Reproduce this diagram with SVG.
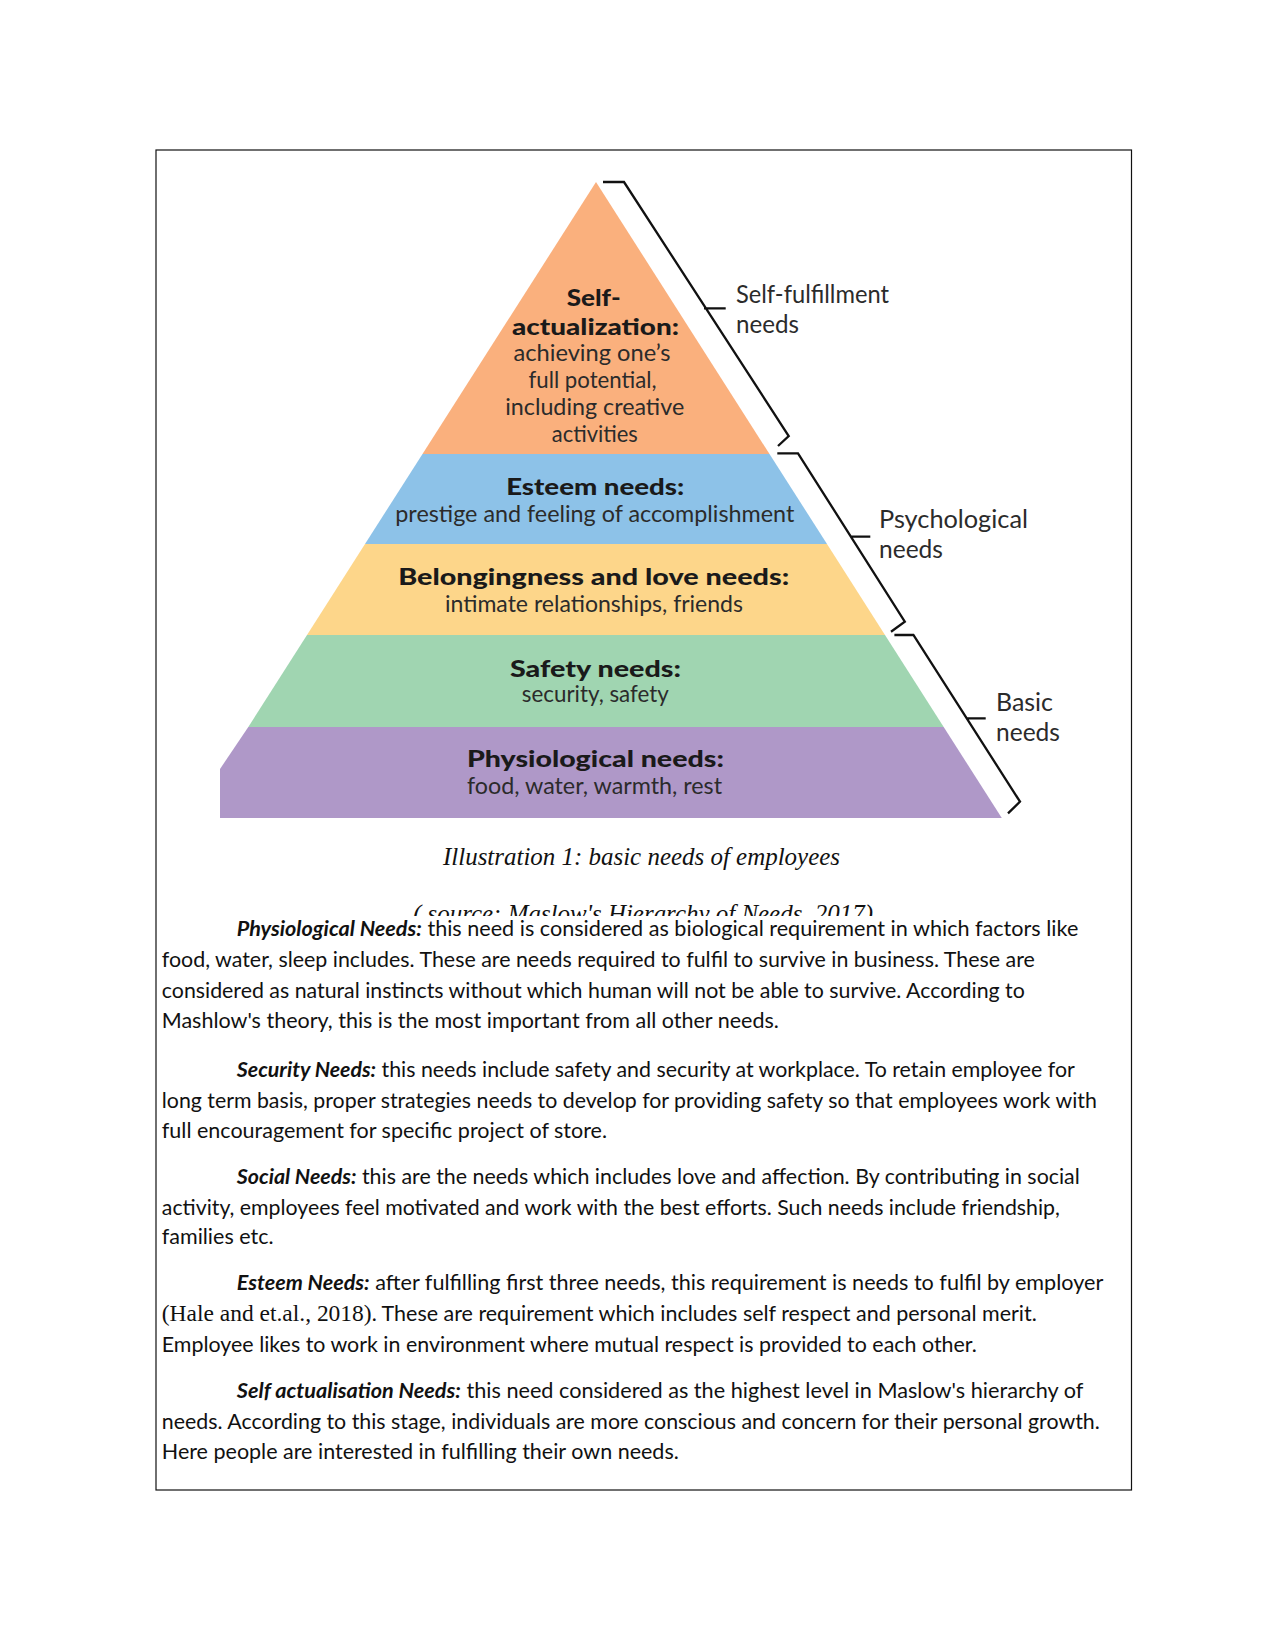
<svg xmlns="http://www.w3.org/2000/svg" width="1275" height="1650" viewBox="0 0 1275 1650">
<style>
.pb{font-family:Lato,"Open Sans",sans-serif;font-weight:900;font-size:22px;fill:#1a1a1a;text-anchor:middle}
.pr{font-family:Lato,"Open Sans",sans-serif;font-size:23px;fill:#2b2b2b;text-anchor:middle}
.lb{font-family:Lato,"Open Sans",sans-serif;font-size:25px;fill:#2b2b2b}
.br{fill:none;stroke:#111;stroke-width:2.3;stroke-linejoin:miter}
.cap{font-family:"Liberation Serif",serif;font-style:italic;font-size:25px;fill:#111}
.body{font-family:Lato,"Liberation Sans",sans-serif;font-size:21.5px;fill:#111}
.bi{font-weight:bold;font-style:italic}
.ser{font-family:"Liberation Serif",serif;font-size:23.5px}
</style>
<defs>
<clipPath id="capclip"><rect x="150" y="880" width="1000" height="36"/></clipPath>
</defs>
<rect x="0" y="0" width="1275" height="1650" fill="#fff"/>
<rect x="156" y="150" width="975.5" height="1340" fill="none" stroke="#111" stroke-width="1.2"/>

<g id="pyramid">
<g id="self-actualization">
<polygon points="596,182 769.5,454 422.5,454" fill="#FAB07D"/>
<text class="pb" x="593.7" y="306" textLength="54" lengthAdjust="spacingAndGlyphs">Self-</text>
<text class="pb" x="595.5" y="335" textLength="167" lengthAdjust="spacingAndGlyphs">actualization:</text>
<text class="pr" x="592" y="361" textLength="157" lengthAdjust="spacingAndGlyphs">achieving one’s</text>
<text class="pr" x="592.5" y="388" textLength="128" lengthAdjust="spacingAndGlyphs">full potential,</text>
<text class="pr" x="594.7" y="415" textLength="179" lengthAdjust="spacingAndGlyphs">including creative</text>
<text class="pr" x="594.8" y="442" textLength="86" lengthAdjust="spacingAndGlyphs">activities</text>
</g>
<g id="esteem">
<polygon points="422.5,454 769.5,454 827,544 365,544" fill="#8DC2E8"/>
<text class="pb" x="595.2" y="495" textLength="178" lengthAdjust="spacingAndGlyphs">Esteem needs:</text>
<text class="pr" x="594.8" y="522" textLength="399" lengthAdjust="spacingAndGlyphs">prestige and feeling of accomplishment</text>
</g>
<g id="belonging">
<polygon points="365,544 827,544 885,635 307,635" fill="#FDD68A"/>
<text class="pb" x="593.7" y="585" textLength="391" lengthAdjust="spacingAndGlyphs">Belongingness and love needs:</text>
<text class="pr" x="594" y="612" textLength="298" lengthAdjust="spacingAndGlyphs">intimate relationships, friends</text>
</g>
<g id="safety">
<polygon points="307,635 885,635 943.7,727 248.3,727" fill="#A0D5B1"/>
<text class="pb" x="595.5" y="677" textLength="171" lengthAdjust="spacingAndGlyphs">Safety needs:</text>
<text class="pr" x="595.3" y="702" textLength="147" lengthAdjust="spacingAndGlyphs">security, safety</text>
</g>
<g id="physiological">
<polygon points="248.3,727 943.7,727 1001.8,818 220,818 220,769" fill="#AF98C8"/>
<text class="pb" x="595.4" y="767" textLength="257" lengthAdjust="spacingAndGlyphs">Physiological needs:</text>
<text class="pr" x="594.5" y="794" textLength="255" lengthAdjust="spacingAndGlyphs">food, water, warmth, rest</text>
</g>
</g>

<g id="connectors">
<path class="br" d="M603,182 L624,182 L788.7,436 L778,446 M704,308.3 L725.7,308.3"/>
<path class="br" d="M777.3,453.3 L798,453.3 L904.8,621.7 L891,631.7 M851.4,536.7 L870.3,536.7"/>
<path class="br" d="M894.4,635 L913.4,635 L1020,801.7 L1008,813.3 M967,718.3 L985.7,718.3"/>
</g>

<g id="label-self-fulfillment">
<text class="lb" x="736" y="303" textLength="153" lengthAdjust="spacingAndGlyphs">Self-fulfillment</text>
<text class="lb" x="736" y="333" textLength="63" lengthAdjust="spacingAndGlyphs">needs</text>
</g>
<g id="label-psychological">
<text class="lb" x="879" y="528" textLength="149" lengthAdjust="spacingAndGlyphs">Psychological</text>
<text class="lb" x="879" y="558" textLength="64" lengthAdjust="spacingAndGlyphs">needs</text>
</g>
<g id="label-basic">
<text class="lb" x="996" y="711" textLength="57" lengthAdjust="spacingAndGlyphs">Basic</text>
<text class="lb" x="996" y="741" textLength="64" lengthAdjust="spacingAndGlyphs">needs</text>
</g>

<g id="caption">
<text class="cap" x="443" y="865" textLength="397" lengthAdjust="spacingAndGlyphs">Illustration 1: basic needs of employees</text>
<text class="cap" x="413" y="921.5" clip-path="url(#capclip)" textLength="460" lengthAdjust="spacingAndGlyphs">( source: Maslow's Hierarchy of Needs, 2017)</text>
</g>

<g id="body">
<text class="body" x="236.8" y="936" textLength="841.5" lengthAdjust="spacingAndGlyphs"><tspan class="bi">Physiological Needs:</tspan> this need is considered as biological requirement in which factors like</text>
<text class="body" x="161.8" y="967" textLength="873" lengthAdjust="spacingAndGlyphs">food, water, sleep includes. These are needs required to fulfil to survive in business. These are</text>
<text class="body" x="161.8" y="998" textLength="863" lengthAdjust="spacingAndGlyphs">considered as natural instincts without which human will not be able to survive. According to</text>
<text class="body" x="161.8" y="1028">Mashlow's theory, this is the most important from all other needs.</text>

<text class="body" x="236.8" y="1077" textLength="838" lengthAdjust="spacingAndGlyphs"><tspan class="bi">Security Needs:</tspan> this needs include safety and security at workplace. To retain employee for</text>
<text class="body" x="161.8" y="1107.5" textLength="935" lengthAdjust="spacingAndGlyphs">long term basis, proper strategies needs to develop for providing safety so that employees work with</text>
<text class="body" x="161.8" y="1137.5">full encouragement for specific project of store.</text>

<text class="body" x="236.8" y="1184" textLength="843" lengthAdjust="spacingAndGlyphs"><tspan class="bi">Social Needs:</tspan> this are the needs which includes love and affection. By contributing in social</text>
<text class="body" x="161.8" y="1214.5" textLength="898" lengthAdjust="spacingAndGlyphs">activity, employees feel motivated and work with the best efforts. Such needs include friendship,</text>
<text class="body" x="161.8" y="1244">families etc.</text>

<text class="body" x="236.8" y="1289.5" textLength="866.5" lengthAdjust="spacingAndGlyphs"><tspan class="bi">Esteem Needs:</tspan> after fulfilling first three needs, this requirement is needs to fulfil by employer</text>
<text class="body" x="161.8" y="1321" textLength="875" lengthAdjust="spacingAndGlyphs"><tspan class="ser">(Hale and et.al., 2018)</tspan>. These are requirement which includes self respect and personal merit.</text>
<text class="body" x="161.8" y="1351.5" textLength="815" lengthAdjust="spacingAndGlyphs">Employee likes to work in environment where mutual respect is provided to each other.</text>

<text class="body" x="236.8" y="1398" textLength="846.5" lengthAdjust="spacingAndGlyphs"><tspan class="bi">Self actualisation Needs:</tspan> this need considered as the highest level in Maslow's hierarchy of</text>
<text class="body" x="161.8" y="1429" textLength="938" lengthAdjust="spacingAndGlyphs">needs. According to this stage, individuals are more conscious and concern for their personal growth.</text>
<text class="body" x="161.8" y="1459">Here people are interested in fulfilling their own needs.</text>
</g>
</svg>
